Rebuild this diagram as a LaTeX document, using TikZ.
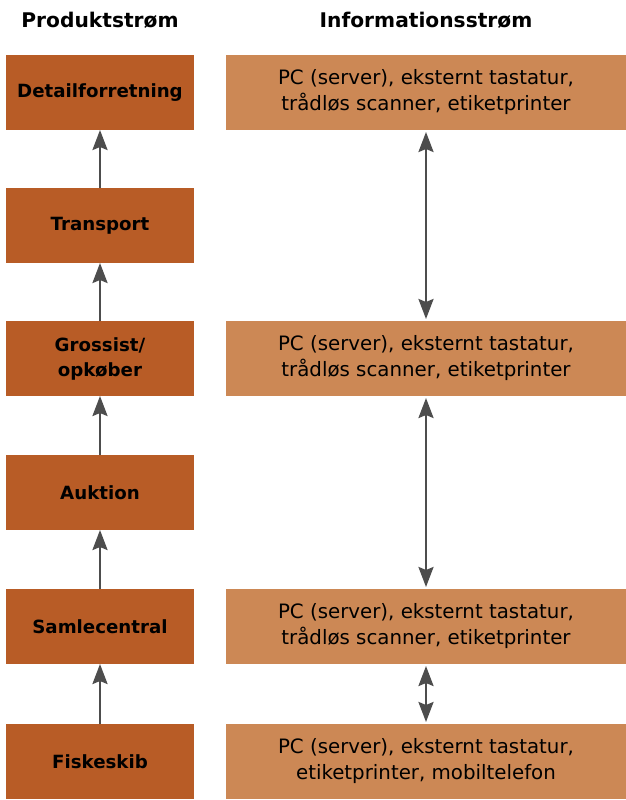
\documentclass[tikz,border=0pt]{standalone}
\usepackage{fontspec}
\setmainfont{DejaVu Sans}
\usetikzlibrary{arrows.meta,positioning}

\definecolor{rust}{HTML}{B85C26}
\definecolor{sand}{HTML}{CC8855}
\definecolor{pipe}{HTML}{4D4D4D}

\begin{document}
\begin{tikzpicture}[x=1pt,y=1pt,
  every node/.style={outer sep=0pt,inner sep=0pt},
  prod/.style={fill=rust,minimum width=188pt,minimum height=75pt,
    font=\fontsize{18.2}{25}\selectfont\bfseries,align=center},
  info/.style={fill=sand,minimum width=400pt,minimum height=75pt,
    font=\fontsize{19.8}{26}\selectfont,align=center},
  head/.style={font=\fontsize{20.2}{24}\selectfont\bfseries},
  flow/.style={draw=pipe,line width=2.5pt,
    -{Stealth[length=20pt,width=15pt,inset=3pt]}},
  dflow/.style={flow,{Stealth[length=20pt,width=15pt,inset=3pt]}-{Stealth[length=20pt,width=15pt,inset=3pt]},
    shorten <=2pt,shorten >=2pt}]

        \useasboundingbox (0,0) rectangle (626,-800);

        \node[head] (hprod) at (100,-20) {Produktstrøm};
        \node[head] (hinfo) at (426,-20) {Informationsstrøm};

        \node[prod,anchor=north west] (detail) at (6,-55) {Detailforretning};
        \node[prod] (transport) [below = 58pt of detail] {Transport};
        \node[prod] (grossist) [below = 58pt of transport] {Grossist/\\opkøber};
        \node[prod] (auktion) [below = 59pt of grossist] {Auktion};
        \node[prod] (samle) [below = 59pt of auktion] {Samlecentral};
        \node[prod] (fisk) [below = 60pt of samle] {Fiskeskib};

        \node[info] (idetail) [right = 32pt of detail] {PC (server), eksternt tastatur,\\trådløs scanner, etiketprinter};
        \node[info] (igrossist) [right = 32pt of grossist] {PC (server), eksternt tastatur,\\trådløs scanner, etiketprinter};
        \node[info] (isamle) [right = 32pt of samle] {PC (server), eksternt tastatur,\\trådløs scanner, etiketprinter};
        \node[info] (ifisk) [right = 32pt of fisk] {PC (server), eksternt tastatur,\\etiketprinter, mobiltelefon};

        \draw[flow] (fisk) -- (samle);
        \draw[flow] (samle) -- (auktion);
        \draw[flow] (auktion) -- (grossist);
        \draw[flow] (grossist) -- (transport);
        \draw[flow] (transport) -- (detail);

        \draw[dflow] (idetail) -- (igrossist);
        \draw[dflow] (igrossist) -- (isamle);
        \draw[dflow] (isamle) -- (ifisk);
\end{tikzpicture}
\end{document}
